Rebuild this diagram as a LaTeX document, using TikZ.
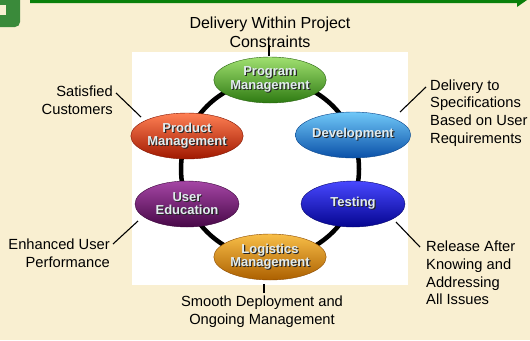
\documentclass[tikz,border=0pt]{standalone}
\usepackage{fontspec}
\setmainfont{Liberation Sans}
\usetikzlibrary{shapes,arrows,arrows.meta}
\usetikzlibrary{positioning}
\definecolor{paper}{HTML}{F9EFD1}
\definecolor{barg}{HTML}{0A800A}
\definecolor{boxg}{HTML}{3A8A3A}
\definecolor{lite}{HTML}{E2ECEE}
\definecolor{shade}{HTML}{262626}
\newcommand\shline[1]{{\makebox[0pt][l]{\hspace{1.1bp}\raisebox{-1.1bp}{\color{shade}#1}}\color{lite}#1}}
\tikzset{phase/.style={ellipse, minimum width=104bp, minimum height=46bp, inner sep=0pt,
    line width=0.4bp, align=center,
    font=\fontsize{13bp}{13.5bp}\selectfont\bfseries},
  lbl/.style={inner sep=0pt, font=\fontsize{14.7bp}{17.7bp}\selectfont},
  tick/.style={line width=1.1bp, black},
  ring/.style={line width=4.5bp, black}
}

\begin{document}
\begin{tikzpicture}[x=1bp, y=-1bp]
            \useasboundingbox (0,0) rectangle (530,340);
            \fill[paper] (0,0) rectangle (530,340);
            \fill[boxg] (0,0) -- (20,0) -- (20,22) arc[start angle=0, end angle=90, radius=5] -- (0,27) -- cycle;
            \fill[paper] (0,5) rectangle (6,15);
            \fill[barg] (30,0) -- (527,0) -- (517,7) -- (517,3) -- (30,3) -- cycle;
            \fill[white] (132,52) rectangle (408,285);
            \coordinate (hub) at (270,169);
            \draw[ring] (hub) circle[radius=89];
            % phases round the ring
            \node[phase, draw={rgb,255:red,40;green,100;blue,15}, top color={rgb,255:red,160;green,224;blue,112}, middle color={rgb,255:red,88;green,184;blue,48}, bottom color={rgb,255:red,46;green,122;blue,18}] (pgm) at (270,80) {\shline{Program}\\\shline{Management}};
            \node[phase, draw={rgb,255:red,10;green,70;blue,140}, top color={rgb,255:red,112;green,200;blue,248}, middle color={rgb,255:red,24;green,144;blue,232}, bottom color={rgb,255:red,10;green,80;blue,168}] (dev) at (353,135) {\shline{Development}};
            \node[phase, draw={rgb,255:red,5;green,5;blue,110}, top color={rgb,255:red,72;green,72;blue,255}, middle color={rgb,255:red,16;green,16;blue,224}, bottom color={rgb,255:red,5;green,5;blue,144}] (tst) at (353,204) {\shline{Testing}};
            \node[phase, draw={rgb,255:red,140;green,75;blue,0}, top color={rgb,255:red,248;green,190;blue,72}, middle color={rgb,255:red,232;green,146;blue,16}, bottom color={rgb,255:red,172;green,96;blue,0}] (log) at (270,257) {\shline{Logistics}\\\shline{Management}};
            \node[phase, draw={rgb,255:red,60;green,5;blue,60}, top color={rgb,255:red,165;green,70;blue,165}, middle color={rgb,255:red,128;green,16;blue,128}, bottom color={rgb,255:red,72;green,8;blue,72}] (edu) at (187,204) {\shline{User}\\\shline{Education}};
            \node[phase, draw={rgb,255:red,130;green,20;blue,0}, top color={rgb,255:red,255;green,128;blue,84}, middle color={rgb,255:red,232;green,52;blue,16}, bottom color={rgb,255:red,160;green,24;blue,0}] (prd) at (187,136) {\shline{Product}\\\shline{Management}};
            % outcomes
            \node[lbl, align=center, font=\fontsize{16bp}{19bp}\selectfont] (goal) at (270,32) {Delivery Within Project\\Constraints};
            \node[lbl, align=right, anchor=east] (sat) at (113,100) {Satisfied\\Customers};
            \node[lbl, align=left, anchor=west] (spec) at (430,113) {Delivery to\\Specifications\\Based on User\\Requirements};
            \node[lbl, align=right, anchor=east] (perf) at (110,253) {Enhanced User\\Performance};
            \node[lbl, align=left, anchor=west] (rel) at (426,273) {Release After\\Knowing and\\Addressing\\All Issues};
            \node[lbl, align=center] (ops) at (262,312) {Smooth Deployment and\\Ongoing Management};
            \coordinate (goal_a) at (269,45);   \coordinate (goal_b) at (269,56);
            \coordinate (sat_a) at (116,93);    \coordinate (sat_b) at (141,117);
            \coordinate (spec_a) at (426,87);   \coordinate (spec_b) at (400,112);
            \coordinate (perf_a) at (113,244);  \coordinate (perf_b) at (138,221);
            \coordinate (rel_a) at (420,247);   \coordinate (rel_b) at (396,222);
            \coordinate (ops_a) at (264,293);   \coordinate (ops_b) at (264,284);
            \path[tick]
                (goal_a) edge (goal_b)
                (sat_a) edge (sat_b)
                (spec_a) edge (spec_b)
                (perf_a) edge (perf_b)
                (rel_a) edge (rel_b)
                (ops_a) edge (ops_b);
        \end{tikzpicture}
\end{document}
